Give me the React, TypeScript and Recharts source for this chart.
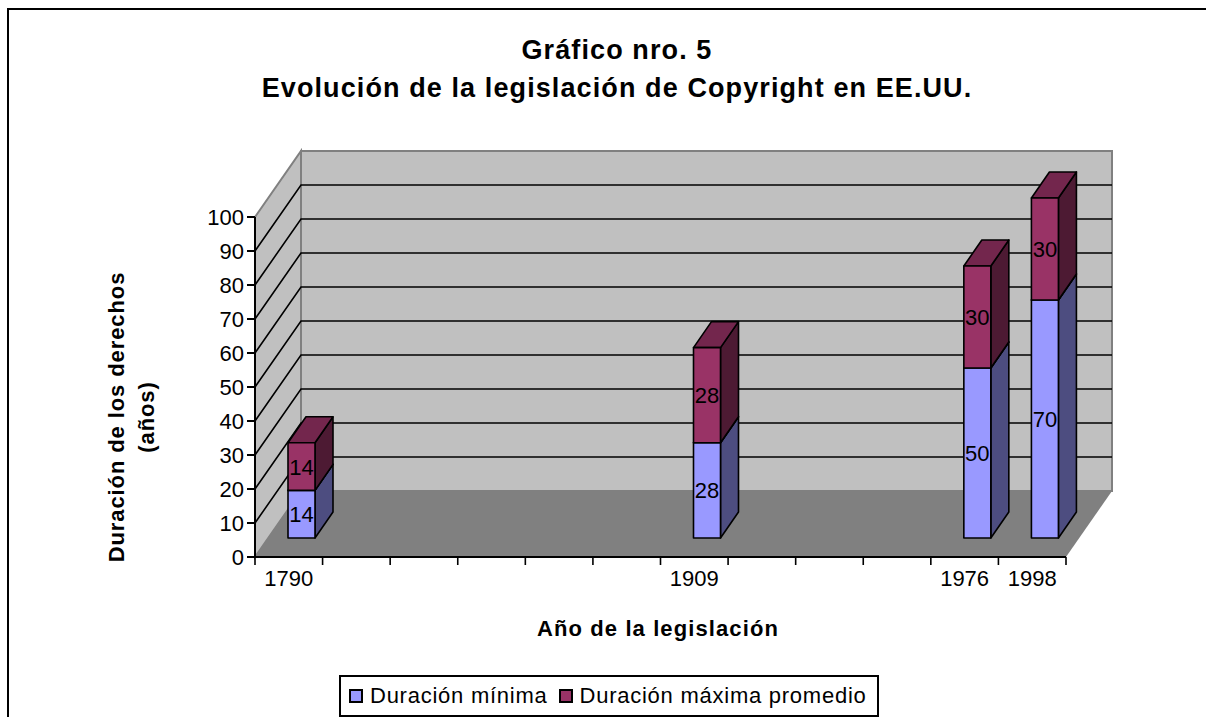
import React from 'react';
import { BarChart, Bar, XAxis, YAxis, CartesianGrid, ReferenceArea, LabelList, Legend } from 'recharts';

const years = ['1790', '', '', '', '', '', '1909', '', '', '', '1976', '1998'];
const minDuration = [14, null, null, null, null, null, 28, null, null, null, 50, 70];
const maxDuration = [14, null, null, null, null, null, 28, null, null, null, 30, 30];
const yTicks = [0, 10, 20, 30, 40, 50, 60, 70, 80, 90, 100];

const data = years.map((year, i) => ({ year, min: minDuration[i], max: maxDuration[i] }));

const FONT = '"Liberation Sans", Arial, sans-serif';

// 3d offsets of the fake Excel perspective
const WALL_DX = 46;
const WALL_DY = -66;
const BAR_DX = 13;
const BAR_DY = -19;
const SIDE_DX = 18;
const SIDE_DY = -26;

function Walls({ x, y, width, height }: any) {
  const bottom = y + height;
  const right = x + width;
  return (
    <g>
      <polygon
        points={`${x},${y} ${x + WALL_DX},${y + WALL_DY} ${x + WALL_DX},${bottom + WALL_DY} ${x},${bottom}`}
        fill="#c0c0c0"
        stroke="#808080"
        strokeWidth={2}
      />
      <rect
        x={x + WALL_DX}
        y={y + WALL_DY}
        width={width}
        height={height}
        fill="#c0c0c0"
        stroke="#808080"
        strokeWidth={2}
      />
      <polygon
        points={`${x},${bottom} ${x + WALL_DX},${bottom + WALL_DY} ${right + WALL_DX},${bottom + WALL_DY} ${right},${bottom}`}
        fill="#808080"
      />
    </g>
  );
}

function WallGridLine({ x1, x2, y1, index }: any) {
  if (index === 0 || index === yTicks.length - 1) return <g />;
  const backX = x1 + WALL_DX;
  const backY = y1 + WALL_DY;
  return (
    <path
      d={`M${x1},${y1} L${backX},${backY} L${x2 + WALL_DX},${backY}`}
      fill="none"
      stroke="#000"
      strokeWidth={1.6}
    />
  );
}

function Bar3d({ x, y, width, height, fill, sideFill, topFill }: any) {
  if (!height) return <g />;
  const l = x + BAR_DX;
  const r = l + width;
  const t = y + BAR_DY;
  const b = t + height;
  const line = { stroke: '#000', strokeWidth: 1.6, strokeLinejoin: 'round' as const };
  return (
    <g>
      <polygon
        points={`${r},${t} ${r + SIDE_DX},${t + SIDE_DY} ${r + SIDE_DX},${b + SIDE_DY} ${r},${b}`}
        fill={sideFill}
        {...line}
      />
      <polygon
        points={`${l},${t} ${l + SIDE_DX},${t + SIDE_DY} ${r + SIDE_DX},${t + SIDE_DY} ${r},${t}`}
        fill={topFill}
        {...line}
      />
      <rect x={l} y={t} width={width} height={height} fill={fill} {...line} />
    </g>
  );
}

function BarValue({ x, y, width, height, value }: any) {
  if (value == null || !height) return <g />;
  return (
    <text
      x={x + width / 2 + BAR_DX}
      y={y + height / 2 + BAR_DY + 8}
      textAnchor="middle"
      fontFamily={FONT}
      fontSize={22}
      fill="#000"
    >
      {value}
    </text>
  );
}

function YearTick({ x, y, width, index, payload }: any) {
  const half = width / years.length / 2;
  return (
    <g>
      <line x1={x - half} x2={x - half} y1={y - 8} y2={y} stroke="#000" strokeWidth={1.6} />
      {index === years.length - 1 && (
        <line x1={x + half} x2={x + half} y1={y - 8} y2={y} stroke="#000" strokeWidth={1.6} />
      )}
      <text x={x} y={y + 21} textAnchor="middle" fontFamily={FONT} fontSize={22} fill="#000">
        {payload.value}
      </text>
    </g>
  );
}

function LegendBox() {
  const swatch = (color: string) => (
    <span
      style={{
        display: 'inline-block',
        width: 10,
        height: 10,
        background: color,
        border: '2px solid #000',
        marginRight: 7,
      }}
    />
  );
  return (
    <div
      style={{
        boxSizing: 'border-box',
        width: 540,
        height: 42,
        border: '2px solid #000',
        fontFamily: FONT,
        fontSize: 22,
        letterSpacing: 0.75,
        color: '#000',
        display: 'flex',
        alignItems: 'center',
        paddingLeft: 8,
        whiteSpace: 'nowrap',
      }}
    >
      {swatch('#9999ff')}
      <span style={{ marginRight: 11 }}>Duración mínima</span>
      {swatch('#993366')}
      <span>Duración máxima promedio</span>
    </div>
  );
}

export default function App() {
  return (
    <div style={{ position: 'absolute', left: 0, top: 0, width: 1206, height: 717, overflow: 'hidden', background: '#fff' }}>
      <div style={{ position: 'absolute', left: 7, top: 8, width: 1400, height: 900, border: '2px solid #000' }} />
      <div style={{ position: 'absolute', left: 0, top: 0 }}>
        <BarChart
          width={1206}
          height={717}
          data={data}
          barSize={27}
          margin={{ top: 217, right: 140, bottom: 58, left: 195 }}
        >
          <ReferenceArea y1={0} y2={100} shape={<Walls />} ifOverflow="visible" zIndex={-200} />
          <CartesianGrid vertical={false} horizontal={(props: any) => <WallGridLine {...props} />} />
          <XAxis
            dataKey="year"
            interval={0}
            height={60}
            tick={<YearTick />}
            tickLine={false}
            stroke="#000"
            strokeWidth={2}
          />
          <YAxis
            domain={[0, 100]}
            ticks={yTicks}
            interval={0}
            width={60}
            tickSize={8}
            tickMargin={3}
            stroke="#000"
            strokeWidth={2}
            tick={{ fontFamily: FONT, fontSize: 22, fill: '#000' }}
          />
          <Legend
            content={<LegendBox />}
            wrapperStyle={{ left: 339, top: 675, bottom: 'auto', width: 540, height: 42 }}
          />
          <Bar
            dataKey="min"
            stackId="a"
            name="Duración mínima"
            isAnimationActive={false}
            shape={<Bar3d sideFill="#4d4d80" topFill="#7373bf" />}
            fill="#9999ff"
          >
            <LabelList dataKey="min" content={<BarValue />} />
          </Bar>
          <Bar
            dataKey="max"
            stackId="a"
            name="Duración máxima promedio"
            isAnimationActive={false}
            shape={<Bar3d sideFill="#4d1a33" topFill="#73264d" />}
            fill="#993366"
          >
            <LabelList dataKey="max" content={<BarValue />} />
          </Bar>
          <text x={617} y={59} textAnchor="middle" fontFamily={FONT} fontSize={27} fontWeight="bold" letterSpacing={1.1}>
            Gráfico nro. 5
          </text>
          <text x={617} y={97} textAnchor="middle" fontFamily={FONT} fontSize={27} fontWeight="bold" letterSpacing={1.1}>
            Evolución de la legislación de Copyright en EE.UU.
          </text>
          <text x={658} y={636} textAnchor="middle" fontFamily={FONT} fontSize={22} fontWeight="bold" letterSpacing={1.1}>
            Año de la legislación
          </text>
          <text
            transform="translate(124,417) rotate(-90)"
            textAnchor="middle"
            fontFamily={FONT}
            fontSize={22}
            fontWeight="bold"
            letterSpacing={0.9}
          >
            Duración de los derechos
          </text>
          <text
            transform="translate(154,417) rotate(-90)"
            textAnchor="middle"
            fontFamily={FONT}
            fontSize={22}
            fontWeight="bold"
            letterSpacing={0.9}
          >
            (años)
          </text>
        </BarChart>
      </div>
    </div>
  );
}
